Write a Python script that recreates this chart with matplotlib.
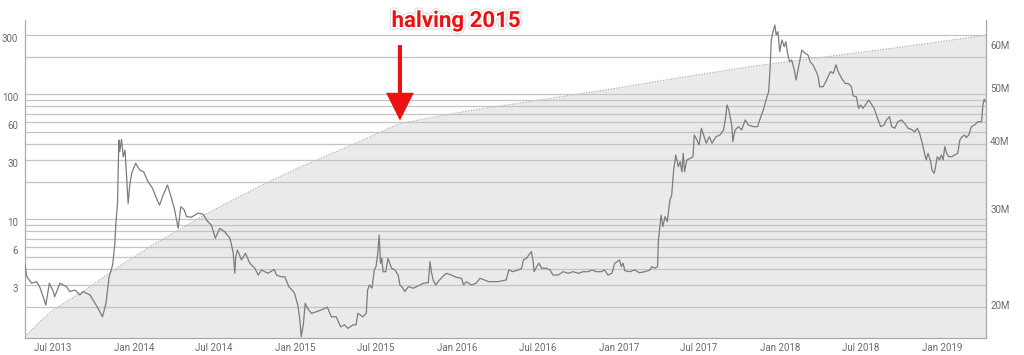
import pandas as pd
import numpy as np
import matplotlib
matplotlib.use("Agg")
import matplotlib.pyplot as plt
import matplotlib.dates as mdates
import matplotlib.patheffects as pe
from matplotlib.ticker import FixedLocator, NullLocator, FixedFormatter
from matplotlib.transforms import ScaledTranslation

plt.rcParams['font.family'] = ['Roboto', 'DejaVu Sans']

# ----------------- data -----------------
price_dates = [
    "2013-04-30", "2013-05-04", "2013-05-15", "2013-05-26", "2013-06-02", "2013-06-10", "2013-06-16",
    "2013-06-24", "2013-07-03", "2013-07-06", "2013-07-18", "2013-08-02", "2013-08-09", "2013-08-21",
    "2013-09-01", "2013-09-08", "2013-09-24", "2013-10-03", "2013-10-12", "2013-10-22", "2013-10-30",
    "2013-11-06", "2013-11-14", "2013-11-19", "2013-11-21", "2013-11-25", "2013-11-28", "2013-11-30",
    "2013-12-04", "2013-12-08", "2013-12-12", "2013-12-15", "2013-12-19", "2013-12-23", "2013-12-28",
    "2014-01-05", "2014-01-14", "2014-01-23", "2014-02-02", "2014-02-12", "2014-02-21", "2014-02-28",
    "2014-03-08", "2014-03-18", "2014-03-27", "2014-04-03", "2014-04-11", "2014-04-17", "2014-04-24",
    "2014-04-30", "2014-05-11", "2014-05-26", "2014-06-06", "2014-06-17", "2014-06-25", "2014-07-04",
    "2014-07-14", "2014-07-25", "2014-08-06", "2014-08-13", "2014-08-17", "2014-08-19", "2014-08-23",
    "2014-09-01", "2014-09-10", "2014-09-20", "2014-10-01", "2014-10-09", "2014-10-16", "2014-10-31",
    "2014-11-14", "2014-11-19", "2014-11-30", "2014-12-08", "2014-12-17", "2014-12-24", "2014-12-30",
    "2015-01-07", "2015-01-11", "2015-01-14", "2015-01-19", "2015-01-23", "2015-01-28", "2015-02-06",
    "2015-02-17", "2015-02-28", "2015-03-14", "2015-03-23", "2015-04-03", "2015-04-13", "2015-04-22",
    "2015-04-29", "2015-05-11", "2015-05-18", "2015-05-22", "2015-06-02", "2015-06-10", "2015-06-13",
    "2015-06-17", "2015-06-23", "2015-06-28", "2015-07-02", "2015-07-06", "2015-07-09", "2015-07-12",
    "2015-07-15", "2015-07-18", "2015-07-24", "2015-07-29", "2015-08-06", "2015-08-14", "2015-08-21",
    "2015-08-25", "2015-09-01", "2015-09-05", "2015-09-13", "2015-09-24", "2015-10-05", "2015-10-17",
    "2015-10-28", "2015-11-01", "2015-11-04", "2015-11-08", "2015-11-14", "2015-11-19", "2015-11-29",
    "2015-12-08", "2015-12-19", "2015-12-30", "2016-01-11", "2016-01-16", "2016-01-22", "2016-02-02",
    "2016-02-13", "2016-02-22", "2016-03-03", "2016-03-13", "2016-03-22", "2016-04-03", "2016-04-14",
    "2016-04-21", "2016-04-27", "2016-05-06", "2016-05-18", "2016-05-26", "2016-05-30", "2016-06-06",
    "2016-06-14", "2016-06-17", "2016-06-21", "2016-06-23", "2016-06-29", "2016-07-04", "2016-07-10",
    "2016-07-21", "2016-07-29", "2016-08-05", "2016-08-16", "2016-08-28", "2016-09-08", "2016-09-19",
    "2016-10-01", "2016-10-12", "2016-10-23", "2016-11-01", "2016-11-11", "2016-11-22", "2016-11-29",
    "2016-12-07", "2016-12-16", "2016-12-22", "2016-12-28", "2017-01-02", "2017-01-06", "2017-01-10",
    "2017-01-14", "2017-01-25", "2017-02-05", "2017-02-16", "2017-02-28", "2017-03-12", "2017-03-16",
    "2017-03-23", "2017-03-29", "2017-03-31", "2017-04-06", "2017-04-10", "2017-04-15", "2017-04-20",
    "2017-04-26", "2017-04-30", "2017-05-04", "2017-05-09", "2017-05-15", "2017-05-19", "2017-05-23",
    "2017-05-26", "2017-05-29", "2017-06-03", "2017-06-11", "2017-06-17", "2017-06-20", "2017-06-26",
    "2017-07-01", "2017-07-06", "2017-07-11", "2017-07-17", "2017-07-24", "2017-07-30", "2017-08-08",
    "2017-08-17", "2017-08-25", "2017-08-29", "2017-09-02", "2017-09-06", "2017-09-09", "2017-09-13",
    "2017-09-15", "2017-09-20", "2017-09-28", "2017-10-05", "2017-10-13", "2017-10-20", "2017-11-01",
    "2017-11-10", "2017-11-16", "2017-11-23", "2017-11-29", "2017-12-05", "2017-12-08", "2017-12-11",
    "2017-12-14", "2017-12-19", "2017-12-22", "2017-12-26", "2017-12-30", "2018-01-04", "2018-01-09",
    "2018-01-13", "2018-01-16", "2018-01-21", "2018-01-26", "2018-02-01", "2018-02-05", "2018-02-10",
    "2018-02-18", "2018-02-25", "2018-03-04", "2018-03-09", "2018-03-15", "2018-03-21", "2018-03-27",
    "2018-03-30", "2018-04-07", "2018-04-13", "2018-04-18", "2018-04-24", "2018-04-30", "2018-05-06",
    "2018-05-11", "2018-05-19", "2018-05-27", "2018-06-03", "2018-06-10", "2018-06-14", "2018-06-21",
    "2018-06-26", "2018-07-01", "2018-07-06", "2018-07-14", "2018-07-19", "2018-07-24", "2018-07-31",
    "2018-08-08", "2018-08-15", "2018-08-23", "2018-08-28", "2018-09-04", "2018-09-09", "2018-09-16",
    "2018-09-23", "2018-10-01", "2018-10-08", "2018-10-16", "2018-10-23", "2018-10-31", "2018-11-06",
    "2018-11-11", "2018-11-17", "2018-11-23", "2018-11-26", "2018-11-30", "2018-12-06", "2018-12-09",
    "2018-12-14", "2018-12-17", "2018-12-21", "2018-12-26", "2018-12-30", "2019-01-03", "2019-01-07",
    "2019-01-11", "2019-01-16", "2019-01-23", "2019-01-29", "2019-02-05", "2019-02-10", "2019-02-15",
    "2019-02-21", "2019-02-24", "2019-03-02", "2019-03-08", "2019-03-15", "2019-03-23", "2019-03-31",
    "2019-04-03", "2019-04-06", "2019-04-09",
]
price_values = [
    4.31, 3.47, 3.08, 3.17, 2.89, 2.40, 2.06,
    3.08, 2.64, 2.40, 3.08, 2.89, 2.64, 2.72,
    2.48, 2.64, 2.48, 2.19, 1.94, 1.66, 2.13,
    3.47, 4.31, 6.43, 9.0, 13.4, 43.1, 34.7,
    43.6, 31.7, 35.8, 23.3, 13.4, 19.4, 24.0,
    28.1, 24.8, 24.0, 20.0, 17.7, 14.7, 13.0,
    15.6, 18.8, 14.7, 11.9, 8.47, 12.6, 12.0,
    10.5, 10.4, 11.2, 11.0, 9.57, 9.0, 7.05,
    8.47, 7.96, 7.05, 5.51, 3.70, 5.02, 5.68,
    4.73, 5.35, 4.45, 4.06, 3.58, 3.93, 3.70,
    3.98, 3.58, 3.47, 3.47, 2.89, 2.72, 2.56,
    2.00, 1.56, 1.15, 1.47, 2.13, 1.94, 1.77,
    1.82, 1.88, 1.98, 1.66, 1.66, 1.38, 1.43,
    1.34, 1.43, 1.43, 1.77, 1.66, 1.77, 2.72,
    2.98, 2.81, 3.93, 4.18, 5.35, 7.49, 4.45,
    4.88, 3.81, 3.81, 4.88, 4.06, 3.93, 3.58,
    2.98, 2.81, 2.64, 2.89, 2.81, 2.93, 3.08,
    3.11, 4.58, 3.81, 3.27, 2.98, 3.17, 3.47,
    3.70, 3.58, 3.44, 3.37, 2.98, 3.17, 2.98,
    3.08, 3.37, 3.27, 3.17, 3.17, 3.17, 3.23,
    3.27, 3.93, 3.81, 3.93, 4.06, 4.73, 4.88,
    5.35, 5.51, 4.58, 3.81, 4.18, 4.45, 4.06,
    4.06, 3.93, 3.58, 3.58, 3.81, 3.70, 3.81,
    3.70, 3.81, 3.81, 3.93, 3.81, 3.81, 3.93,
    3.58, 3.70, 4.45, 4.58, 4.73, 4.18, 4.45,
    3.88, 3.81, 3.93, 3.74, 3.81, 3.93, 4.18,
    4.06, 4.18, 6.83, 10.8, 8.73, 10.5, 9.57,
    14.3, 15.6, 24.0, 32.7, 26.4, 28.9, 24.0,
    33.7, 24.0, 29.8, 30.8, 31.7, 47.2, 43.1,
    39.3, 53.5, 47.2, 40.6, 45.8, 40.6, 45.8,
    47.2, 51.8, 62.3, 82.1, 74.9, 66.2, 55.1,
    41.8, 51.8, 55.1, 51.8, 62.3, 56.8, 55.1,
    55.1, 64.3, 74.9, 90.0, 105, 156, 272,
    308, 358, 298, 317, 219, 272, 240,
    264, 219, 182, 188, 156, 130, 161,
    226, 213, 206, 182, 172, 156, 138,
    115, 115, 126, 138, 152, 147, 172,
    152, 134, 122, 122, 115, 97.0, 95.7,
    77.3, 82.1, 77.3, 84.7, 90.0, 84.7, 77.3,
    64.3, 55.1, 56.8, 62.3, 66.2, 55.1, 53.5,
    60.4, 62.3, 58.6, 53.5, 52.5, 50.2, 53.5,
    48.8, 40.6, 32.7, 29.8, 33.7, 28.9, 24.8,
    23.3, 26.4, 31.7, 29.8, 32.7, 29.8, 38.1,
    33.7, 31.7, 31.7, 32.7, 33.7, 43.1, 45.8,
    47.2, 45.0, 47.2, 55.1, 56.8, 60.4, 60.4,
    82.1, 91.2, 87.3,
]

supply_dates = [
    "2013-04-30", "2013-06-01", "2013-07-03", "2013-08-10", "2013-09-16", "2013-11-30",
    "2014-02-13", "2014-04-30", "2014-06-10", "2014-08-20", "2014-10-27", "2015-01-04",
    "2015-04-11", "2015-06-03", "2015-08-25", "2015-11-20", "2016-02-06", "2016-08-20",
    "2017-01-01", "2017-05-19", "2017-11-01", "2018-06-17", "2018-11-04", "2019-04-10",
]
supply_values = [  # millions
    17.5, 18.6, 19.6, 20.5, 21.4, 23.6,
    25.8, 28.0, 29.3, 31.4, 33.5, 35.6,
    38.5, 40.2, 43.1, 44.4, 45.6, 48.2,
    50.1, 52.3, 54.9, 58.0, 60.0, 62.6,
]

halving_date = "2015-08-25"
halving_label = "halving 2015"

left_ticks = [3, 6, 10, 30, 60, 100, 300]
left_grid = [2, 3, 4, 5, 6, 7, 8, 9, 10, 20, 30, 40, 50, 60, 70, 80, 90, 100, 200, 300]
right_ticks = [20, 30, 40, 50, 60]

# ----------------- plot -----------------
pdates = pd.to_datetime(price_dates)
sdates = pd.to_datetime(supply_dates)
supply = np.array(supply_values) * 1e6

fig = plt.figure(figsize=(10.24, 3.55), dpi=100)
ax_s = fig.add_axes([25 / 1024, 17 / 355, 961 / 1024, 318 / 355])
ax_p = ax_s.twinx()

# supply area (bottom layer)
ax_s.fill_between(sdates, 1e6, supply, color="#eaeaea", lw=0, zorder=1)
ax_s.plot(sdates, supply, color="#aaaaaa", lw=0.8, ls=(0, (1, 1.5)), zorder=2)
ax_s.set_yscale("log")
ax_s.set_ylim(17.4e6, 66.7e6)
ax_s.yaxis.set_major_locator(FixedLocator([v * 1e6 for v in right_ticks]))
ax_s.yaxis.set_major_formatter(FixedFormatter([f"{v}M" for v in right_ticks]))
ax_s.yaxis.set_minor_locator(NullLocator())
ax_s.yaxis.tick_right()

# price on top with grid
ax_p.plot(pdates, price_values, color="#7c7c7c", lw=0.9, zorder=3)
ax_p.set_yscale("log")
ax_p.set_ylim(1.123, 393)
ax_p.yaxis.set_major_locator(FixedLocator(left_ticks))
ax_p.yaxis.set_major_formatter(FixedFormatter([str(v) for v in left_ticks]))
ax_p.yaxis.set_minor_locator(FixedLocator(left_grid))
ax_p.yaxis.tick_left()
ax_p.grid(True, which="both", axis="y", color="#c4c4c4", lw=0.9, zorder=0)
ax_p.grid(True, which="major", axis="x", color="#b4b4b4", lw=0.9, zorder=0)

ax_s.set_xlim(pd.Timestamp("2013-04-30"), pd.Timestamp("2019-04-10"))
ax_p.xaxis.set_major_locator(mdates.MonthLocator(bymonth=[1, 7]))
ax_p.xaxis.set_major_formatter(mdates.DateFormatter("%b %Y"))

for a in (ax_s, ax_p):
    a.tick_params(which="both", length=0, labelsize=7, colors="#6a6a6a")
    a.spines["top"].set_visible(False)
    for s in ("left", "right", "bottom"):
        a.spines[s].set_color("#a8a8a8")
ax_s.tick_params(axis="y", pad=3)
ax_p.tick_params(axis="y", pad=5)
ax_p.tick_params(axis="x", pad=4)

# left labels sit a little below their grid lines
shift = ScaledTranslation(0, -3 / 100, fig.dpi_scale_trans)
for lab in ax_p.get_yticklabels():
    lab.set_transform(lab.get_transform() + shift)

# halving arrow + label
hd = pd.Timestamp(halving_date)
hs = np.interp(mdates.date2num(hd), mdates.date2num(sdates), supply)
ax_p.annotate("", xy=(mdates.date2num(hd), hs), xycoords=ax_s.transData,
              xytext=(mdates.date2num(hd), 0.93), textcoords=("data", "axes fraction"),
              arrowprops=dict(arrowstyle="simple,head_width=1.0,head_length=1.0,tail_width=0.15",
                              color="#ee1111", lw=0, mutation_scale=20),
              annotation_clip=False, zorder=10)
fig.text(456 / 1024, 1 - 21 / 355, halving_label, ha="center", va="center",
         fontsize=16, fontweight="bold", color="#ee1111",
         path_effects=[pe.Stroke(linewidth=4, foreground="#dddddd"),
                       pe.Stroke(linewidth=2.5, foreground="white"), pe.Normal()])

fig.savefig("out.png", dpi=100)
